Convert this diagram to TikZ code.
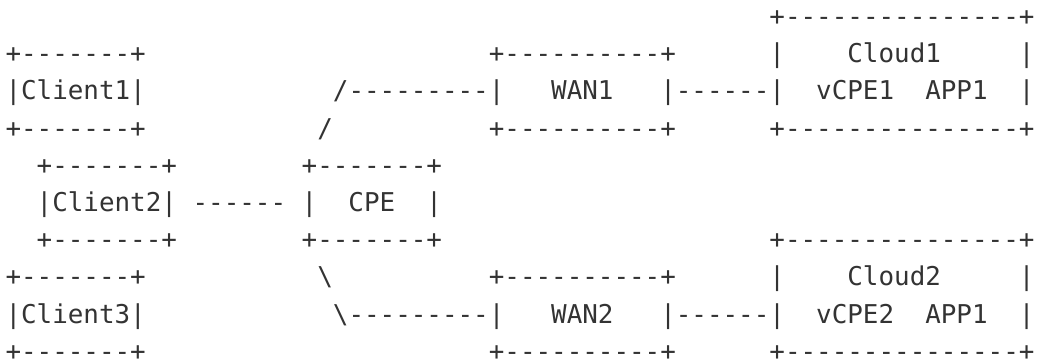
\documentclass[tikz,border=0pt]{standalone}
\usepackage{fontspec}
\setmonofont{DejaVu Sans Mono}
\usepackage{tikz}
\usetikzlibrary{positioning}

\definecolor{inkgray}{HTML}{333333}

\begin{document}
\begin{tikzpicture}[x=7.2246pt, y=-17.24pt, font=\ttfamily\fontsize{12pt}{17.24pt}\selectfont,
    asciirow/.style={anchor=base west, inner sep=0pt, outer sep=0pt, text=inkgray}]
          \useasboundingbox[fill=white] (-0.353,0.314) rectangle (66.289,9.937);
          % one node per line of the ascii drawing, placed on a character grid
          \node[asciirow] (row1) at (49,1) {+---------------+};
          \node[asciirow] (row2) at (0,2) {+-------+~~~~~~~~~~~~~~~~~~~~~~+----------+~~~~~~|~~~~Cloud1~~~~~|};
          \node[asciirow] (row3) at (0,3) {|Client1|~~~~~~~~~~~~/---------|~~~WAN1~~~|------|~~vCPE1~~APP1~~|};
          \node[asciirow] (row4) at (0,4) {+-------+~~~~~~~~~~~/~~~~~~~~~~+----------+~~~~~~+---------------+};
          \node[asciirow] (row5) at (2,5) {+-------+~~~~~~~~+-------+};
          \node[asciirow] (row6) at (2,6) {|Client2|~------~|~~CPE~~|};
          \node[asciirow] (row7) at (2,7) {+-------+~~~~~~~~+-------+~~~~~~~~~~~~~~~~~~~~~+---------------+};
          \node[asciirow] (row8) at (0,8) {+-------+~~~~~~~~~~~\textbackslash~~~~~~~~~~+----------+~~~~~~|~~~~Cloud2~~~~~|};
          \node[asciirow] (row9) at (0,9) {|Client3|~~~~~~~~~~~~\textbackslash---------|~~~WAN2~~~|------|~~vCPE2~~APP1~~|};
          \node[asciirow] (row10) at (0,10) {+-------+~~~~~~~~~~~~~~~~~~~~~~+----------+~~~~~~+---------------+};
        \end{tikzpicture}
\end{document}
